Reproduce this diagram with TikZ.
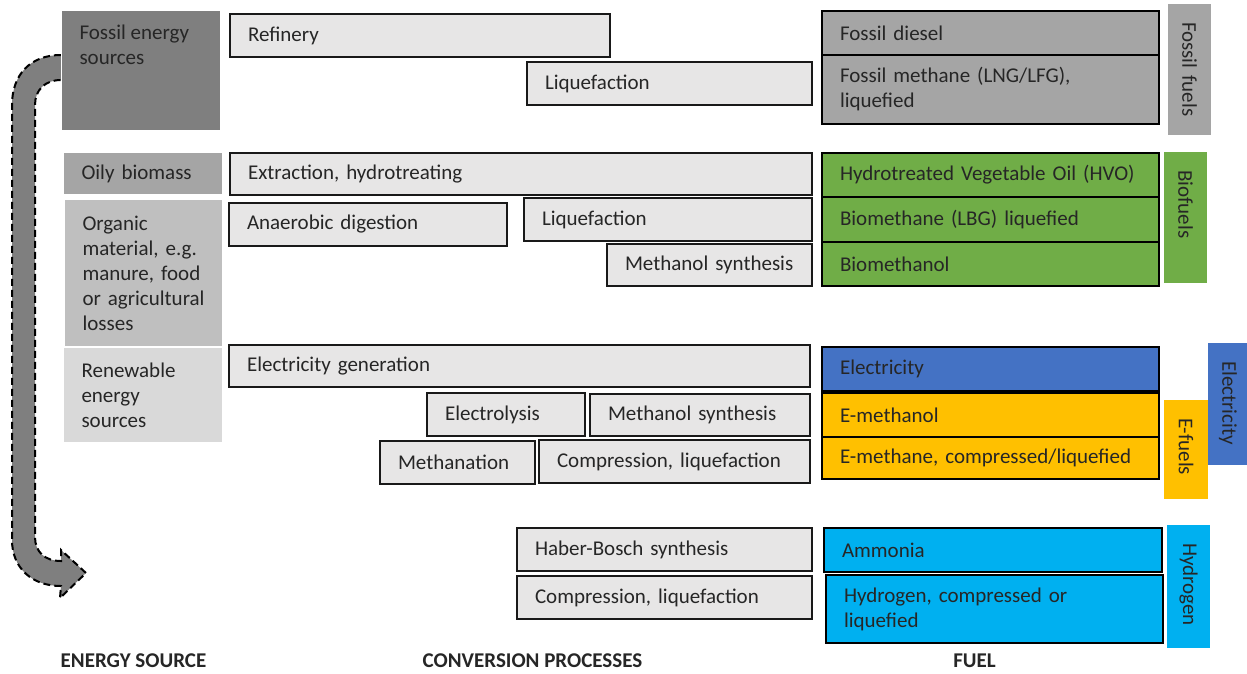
\documentclass[tikz,border=0pt]{standalone}
\usepackage{fontspec}
\setmainfont{Carlito}
\definecolor{srcA}{HTML}{7F7F7F}
\definecolor{srcB}{HTML}{A5A5A5}
\definecolor{srcC}{HTML}{BFBFBF}
\definecolor{srcD}{HTML}{D9D9D9}
\definecolor{procgray}{HTML}{E7E6E6}
\definecolor{fossilgray}{HTML}{A5A5A5}
\definecolor{biogreen}{HTML}{70AD47}
\definecolor{elblue}{HTML}{4472C4}
\definecolor{efyellow}{HTML}{FFC000}
\definecolor{hycyan}{HTML}{00B0F0}
\definecolor{txt}{HTML}{262626}
\tikzset{
  bx/.code n args={4}{\pgfmathsetmacro\mytw{#3-36}\tikzset{at={(#1,#2)},anchor=north west,minimum width=#3pt,minimum height=#4pt,text width=\mytw pt,align=left,inner xsep=18pt,inner ysep=0pt}},
  side/.code n args={4}{\pgfmathsetmacro\mycx{#1+#3/2}\pgfmathsetmacro\mycy{#2+#4/2}\pgfmathsetmacro\mytw{#4-36}\tikzset{at={(\mycx,\mycy)},anchor=center,rotate=-90,minimum width=#4pt,minimum height=#3pt,text width=\mytw pt,align=left,inner xsep=18pt,inner ysep=0pt}},
  proc/.style={draw=black!90,line width=2pt,fill=procgray},
  fuel/.style={draw=black,line width=2pt},
  srcbox/.style={draw=white,line width=1pt},
  sidebox/.style={draw=none},
  heading/.style={font=\bfseries\fontsize{21}{25}\selectfont},
  arrowst/.style={draw=black,fill=srcA,line width=2pt,dash pattern=on 7pt off 4pt}
}
\begin{document}
\begin{tikzpicture}[x=1pt,y=-1pt,every node/.append style={font=\fontsize{21}{25}\selectfont,text=txt}]
\useasboundingbox (0,0) rectangle (1247,673);

% curved arrow
\path[arrowst] (61,55) .. controls (30,55) and (12,75) .. (12,105) -- (12,540)
  .. controls (12,568) and (32,586) .. (61,586) -- (60,598) -- (86,573) -- (61,550) -- (61,561)
  .. controls (45,561) and (35,552) .. (35,537) -- (35,105)
  .. controls (35,90) and (45,80) .. (61,80);

% energy sources
\node[srcbox,fill=srcA,anchor=north west,minimum width=159pt,minimum height=120pt,inner xsep=18pt,inner ysep=0pt] (fes) at (61,10)
  {\parbox[c][120pt][t]{123pt}{\vspace*{11pt}\strut Fossil energy\\sources}};
\node[srcbox,fill=srcB,bx={63}{152}{159}{42}] (oily) {Oily biomass};
\node[srcbox,fill=srcC,bx={64}{199}{158}{147}] (org) {Organic\\material, e.g.\\manure, food\\\mbox{or agricultural}\\losses};
\node[srcbox,fill=srcD,bx={63}{347}{159}{95}] (ren) {Renewable\\energy\\sources};

% conversion processes
\node[proc,bx={229}{13}{380}{43}] (ref) {Refinery};
\node[proc,bx={526}{61}{285}{43}] (liqA) {Liquefaction};
\node[proc,bx={229}{152}{582}{42}] (ext) {Extraction, hydrotreating};
\node[proc,bx={228}{202}{278}{43}] (ana) {Anaerobic digestion};
\node[proc,bx={523}{197}{288}{43}] (liqB) {Liquefaction};
\node[proc,bx={606}{243}{205}{42}] (methA) {Methanol synthesis};
\node[proc,bx={228}{344}{581}{42}] (elg) {Electricity generation};
\node[proc,bx={426}{392}{158}{43}] (ely) {Electrolysis};
\node[proc,bx={589}{393}{220}{42}] (methB) {Methanol synthesis};
\node[proc,bx={379}{440}{155}{43}] (mtn) {Methanation};
\node[proc,bx={538}{439}{271}{43}] (compA) {Compression, liquefaction};
\node[proc,bx={516}{527}{295}{43}] (hb) {Haber-Bosch synthesis};
\node[proc,bx={516}{575}{295}{43}] (compB) {Compression, liquefaction};

% fuels
\node[fuel,fill=fossilgray,bx={821}{10}{337}{44}] (fd) {Fossil diesel};
\node[fuel,fill=fossilgray,bx={821}{54}{337}{69}] (fm) {Fossil methane (LNG/LFG),\\liquefied};
\node[fuel,fill=biogreen,bx={821}{152}{337}{44}] (hvo) {\mbox{Hydrotreated Vegetable Oil (HVO)}};
\node[fuel,fill=biogreen,bx={821}{196}{337}{45}] (bm) {Biomethane (LBG) liquefied};
\node[fuel,fill=biogreen,bx={821}{241}{337}{44}] (bmo) {Biomethanol};
\node[fuel,fill=elblue,bx={821}{346}{337}{44}] (el) {Electricity};
\node[fuel,fill=efyellow,bx={821}{392}{337}{44}] (em) {E-methanol};
\node[fuel,fill=efyellow,bx={821}{436}{337}{42}] (eme) {E-methane, compressed/liquefied};
\node[fuel,fill=hycyan,bx={823}{527}{338}{44}] (amm) {Ammonia};
\node[fuel,fill=hycyan,bx={825}{574}{337}{68}] (hyd) {Hydrogen, compressed or\\liquefied};

% side labels
\node[sidebox,fill=fossilgray,side={1168}{4}{43}{131}] (sff) {Fossil fuels};
\node[sidebox,fill=biogreen,side={1164}{152}{43}{131}] (sbf) {Biofuels};
\node[sidebox,fill=elblue,side={1208}{343}{40}{122}] (sel) {Electricity};
\node[sidebox,fill=efyellow,side={1164}{400}{44}{99}] (sef) {E-fuels};
\node[sidebox,fill=hycyan,side={1167}{525}{43}{123}] (shy) {Hydrogen};

% headings
\node[heading] (hsrc) at (133.5,661) {ENERGY SOURCE};
\node[heading] (hconv) at (532.5,661) {CONVERSION PROCESSES};
\node[heading] (hfuel) at (974.5,661) {FUEL};
\end{tikzpicture}
\end{document}
